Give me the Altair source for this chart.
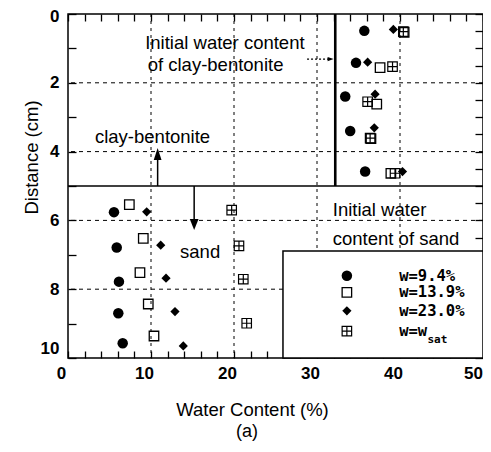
import altair as alt
import pandas as pd

# ---------------- data ----------------
SERIES = ["w=9.4%", "w=13.9%", "w=23.0%", "w=wsat"]

# distance (cm) and water content (%) : clay-bentonite (0-5 cm) then sand (5-10 cm)
W94_DEPTH = [0.49, 1.42, 2.40, 3.40, 4.58, 5.76, 6.79, 7.78, 8.70, 9.57]
W94_WC = [35.7, 34.7, 33.4, 34.0, 35.8, 5.54, 5.87, 6.14, 6.06, 6.59]

W139_DEPTH = [0.53, 1.56, 2.62, 3.62, 4.63, 5.54, 6.52, 7.52, 8.43, 9.36]
W139_WC = [40.5, 37.6, 37.2, 36.5, 38.9, 7.39, 9.07, 8.67, 9.67, 10.36]

W230_DEPTH = [0.45, 1.40, 2.33, 3.31, 4.58, 5.75, 6.72, 7.68, 8.65, 9.65]
W230_WC = [39.2, 36.1, 37.0, 36.9, 40.3, 9.48, 11.17, 11.81, 12.89, 13.89]

WSAT_DEPTH = [0.51, 1.53, 2.55, 3.61, 4.63, 5.70, 6.74, 7.71, 8.99]
WSAT_WC = [40.4, 39.1, 36.1, 36.4, 39.4, 19.72, 20.6, 21.12, 21.53]

X_TICKS = list(range(0, 51, 2))
Y_TICKS = [i * 0.5 for i in range(21)]
GRID_X = [10, 20, 30, 40]
GRID_Y = [2, 4, 6, 8]
LAYER_BOUNDARY = [5]
CLAY_INITIAL_WC = 32.2

# annotations
NOTE_TEXT = ["Initial water content", "of clay-bentonite", "clay-bentonite", "sand",
             "Initial water", "content of sand"]
NOTE_X = [9.3, 9.6, 3.25, 13.5, 31.9, 31.9]
NOTE_Y = [0.84, 1.48, 3.58, 6.92, 5.70, 6.55]

LEGEND_X = 33.6
LEGEND_LABEL_X = 39.9
LEGEND_Y = [7.61, 8.09, 8.63, 9.22]
LEGEND_LABELS = ["w=9.4%", "w=13.9%", "w=23.0%", "w=w"]
LEGEND_BOX = {"x": 25.9, "x2": 50, "y": 6.89, "y2": 10}

FONT = "Liberation Sans"
MONO = "DejaVu Sans Mono"
SAT_PATH = "M-1,-1L1,-1L1,1L-1,1Z M-1,0L1,0 M0,-1L0,1"

xs = alt.Scale(domain=[0, 50], nice=False, zero=False)
ys = alt.Scale(domain=[0, 10], reverse=True, nice=False, zero=False)


def X(f, axis=None):
    return alt.X(f, type="quantitative", scale=xs, axis=axis)


def Y(f, axis=None):
    return alt.Y(f, type="quantitative", scale=ys, axis=axis)


# ---------------- grid & structure ----------------
grid_x = alt.Chart(pd.DataFrame({"v": GRID_X})).mark_rule(
    color="black", strokeWidth=1, strokeDash=[3, 4]).encode(x=X("v"))
grid_y = alt.Chart(pd.DataFrame({"v": GRID_Y})).mark_rule(
    color="black", strokeWidth=1, strokeDash=[4, 4]).encode(y=Y("v"))
boundary = alt.Chart(pd.DataFrame({"v": LAYER_BOUNDARY})).mark_rule(
    color="black", strokeWidth=1.5).encode(y=Y("v"))
clay_line = alt.Chart(pd.DataFrame({"x": [CLAY_INITIAL_WC], "y": [0], "y2": [5]})).mark_rule(
    color="black", strokeWidth=2.6).encode(x=X("x"), y=Y("y"), y2="y2:Q")

# ---------------- series ----------------
STYLE = {
    "w=9.4%": dict(shape="circle", filled=True, size=110),
    "w=13.9%": dict(shape="square", filled=False, size=90, strokeWidth=1.3),
    "w=23.0%": dict(shape="diamond", filled=True, size=85),
    "w=wsat": dict(shape=SAT_PATH, filled=False, size=90, strokeWidth=1.2),
}
DATA = {
    "w=9.4%": (W94_WC, W94_DEPTH),
    "w=13.9%": (W139_WC, W139_DEPTH),
    "w=23.0%": (W230_WC, W230_DEPTH),
    "w=wsat": (WSAT_WC, WSAT_DEPTH),
}

point_layers = []
legend_layers = []
for i, s in enumerate(SERIES):
    wc, d = DATA[s]
    df = pd.DataFrame({"wc": wc, "depth": d})
    point_layers.append(
        alt.Chart(df).mark_point(color="black", opacity=1, **STYLE[s]).encode(
            x=X("wc"), y=Y("depth")))
    ldf = pd.DataFrame({"x": [LEGEND_X], "y": [LEGEND_Y[i]]})
    legend_layers.append(
        alt.Chart(ldf).mark_point(color="black", opacity=1, **STYLE[s]).encode(
            x=X("x"), y=Y("y")))

# ---------------- annotations ----------------
notes = alt.Chart(pd.DataFrame({"t": NOTE_TEXT, "x": NOTE_X, "y": NOTE_Y})).mark_text(
    align="left", baseline="middle", font=FONT, fontSize=18.5, color="black").encode(
    x=X("x"), y=Y("y"), text="t:N")

# arrows
up_shaft = alt.Chart(pd.DataFrame({"x": [10.8], "y": [5], "y2": [4.2]})).mark_rule(
    color="black", strokeWidth=1.5).encode(x=X("x"), y=Y("y"), y2="y2:Q")
up_head = alt.Chart(pd.DataFrame({"x": [10.8], "y": [4.07]})).mark_point(
    shape="M0,-1L-0.65,1L0.65,1Z", filled=True, color="black", size=144, opacity=1).encode(
    x=X("x"), y=Y("y"))
down_shaft = alt.Chart(pd.DataFrame({"x": [15.2], "y": [5], "y2": [6.0]})).mark_rule(
    color="black", strokeWidth=1.5).encode(x=X("x"), y=Y("y"), y2="y2:Q")
down_head = alt.Chart(pd.DataFrame({"x": [15.2], "y": [6.12]})).mark_point(
    shape="M0,1L-0.8,-1L0.8,-1Z", filled=True, color="black", size=121, opacity=1).encode(
    x=X("x"), y=Y("y"))
right_shaft = alt.Chart(pd.DataFrame({"x": [28.8], "x2": [31.5], "y": [1.31]})).mark_rule(
    color="black", strokeWidth=1.2, strokeDash=[2, 2]).encode(x=X("x"), x2="x2:Q", y=Y("y"))
right_head = alt.Chart(pd.DataFrame({"x": [31.64], "y": [1.31]})).mark_point(
    shape="M1,0L-1,-0.7L-1,0.7Z", filled=True, color="black", size=36, opacity=1).encode(
    x=X("x"), y=Y("y"))

# ---------------- legend box (top/right tick axes ride on it) ----------------
top_axis = alt.Axis(orient="top", values=X_TICKS, labels=False, domain=False, grid=False,
                    ticks=True, tickSize=7, tickWidth=1.3, tickColor="black", offset=-7,
                    title=None)
right_axis = alt.Axis(orient="right", values=Y_TICKS, labels=False, domain=False, grid=False,
                      ticks=True, tickSize=8, tickWidth=1.3, tickColor="black", offset=-8,
                      title=None)
legend_box = alt.Chart(pd.DataFrame([LEGEND_BOX])).mark_rect(
    fill="white", stroke="black", strokeWidth=1.5).encode(
    x=X("x", axis=top_axis), x2="x2:Q", y=Y("y", axis=right_axis), y2="y2:Q")

legend_text = alt.Chart(pd.DataFrame({"t": LEGEND_LABELS, "x": [LEGEND_LABEL_X] * 4,
                                      "y": LEGEND_Y})).mark_text(
    align="left", baseline="middle", font=MONO, fontWeight="bold", fontSize=15.5,
    color="black").encode(x=X("x"), y=Y("y"), text="t:N")
legend_sub = alt.Chart(pd.DataFrame({"t": ["sat"], "x": [43.3], "y": [9.47]})).mark_text(
    align="left", baseline="middle", font=MONO, fontWeight="bold", fontSize=11,
    color="black").encode(x=X("x"), y=Y("y"), text="t:N")

# ---------------- main axes (bottom / left) on an invisible carrier layer ----------------
bottom_axis = alt.Axis(orient="bottom", values=X_TICKS, format="d",
                       labelExpr="datum.value % 10 == 0 ? datum.label : ''",
                       domain=False, grid=False, ticks=True, tickSize=7, tickWidth=1.3,
                       tickColor="black", offset=-7, labelFont=FONT, labelFontSize=17,
                       labelFontWeight="bold", labelColor="black", labelPadding=7,
                       labelOffset={"condition": {"test": "datum.value == 50", "value": -10},
                                    "value": -7},
                       labelFlush=False, labelOverlap=False,
                       title="Water Content (%)", titleFont=FONT, titleFontSize=18.5,
                       titleFontWeight="normal", titleColor="black", titleX=184, titleY=58,
                       titleBaseline="middle")
left_axis = alt.Axis(orient="left", values=Y_TICKS, format="d",
                     labelExpr="datum.value % 2 == 0 ? datum.label : ''",
                     domain=False, grid=False, ticks=True, tickSize=8, tickWidth=1.3,
                     tickColor="black", offset=-8, labelFont=FONT, labelFontSize=17,
                     labelFontWeight="bold", labelColor="black", labelPadding=9,
                     labelOffset={"condition": [
                         {"test": "datum.value == 10", "value": -10},
                         {"test": "datum.value == 0", "value": 2}],
                         "value": 0},
                     labelFlush=False, labelOverlap=False,
                     title="Distance (cm)", titleFont=FONT, titleFontSize=18.5,
                     titleFontWeight="normal", titleColor="black", titleX=-45, titleY=143,
                     titleBaseline="middle", titleAngle=270)
carrier = alt.Chart(pd.DataFrame({"x": [0, 50], "y": [0, 10]})).mark_point(opacity=0).encode(
    x=X("x", axis=bottom_axis), y=Y("y", axis=left_axis))

caption = alt.Chart(pd.DataFrame({"t": ["(a)"]})).mark_text(
    font=FONT, fontSize=18, color="black", baseline="middle", align="center").encode(
    x=alt.value(179), y=alt.value(418), text="t:N")

chart = alt.layer(
    carrier, grid_x, grid_y, boundary, clay_line,
    *point_layers,
    up_shaft, up_head, down_shaft, down_head, right_shaft, right_head,
    notes, legend_box, *legend_layers, legend_text, legend_sub, caption,
).resolve_axis(x="independent", y="independent").properties(
    width=415, height=344,
    autosize=alt.AutoSizeParams(type="none"),
    padding={"left": 60, "top": 6, "right": 0, "bottom": 86},
).configure_view(stroke="black", strokeWidth=1.5)

chart.save("out.html", embed_options={"renderer": "svg", "actions": False})
